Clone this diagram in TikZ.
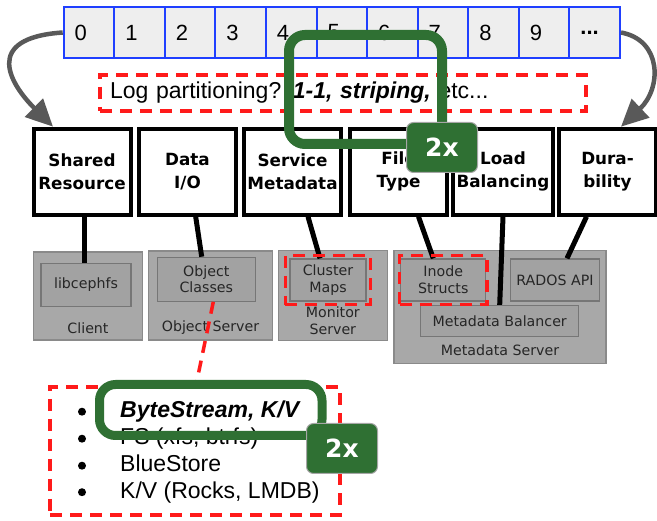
\documentclass[tikz,border=0pt]{standalone}
\usepackage{fontspec}
\setmainfont{Liberation Sans}
\newfontfamily\tahoma{DejaVu Sans}
\usetikzlibrary{arrows.meta,fit}

\definecolor{cellgray}{HTML}{EEEEEE}
\definecolor{cellblue}{HTML}{1F3FFF}
\definecolor{srvgray}{HTML}{A8A8A8}
\definecolor{srvedge}{HTML}{8A8A8A}
\definecolor{modgray}{HTML}{A2A2A2}
\definecolor{modedge}{HTML}{767676}
\definecolor{arrgray}{HTML}{595959}
\definecolor{cephgreen}{HTML}{2F7033}
\definecolor{hlred}{HTML}{FF1A1A}

\tikzset{
  cell/.style={draw=cellblue, line width=2pt, fill=cellgray, minimum width=50.57pt,
    minimum height=51pt, inner xsep=11pt, text width=28.57pt, align=left,
    font=\fontsize{22}{24}\selectfont},
  topbox/.style={draw, line width=4pt, fill=white, minimum width=97pt, minimum height=86pt,
    align=center, font=\tahoma\bfseries\fontsize{16.8}{23}\selectfont},
  server/.style={draw=srvedge, line width=1.5pt, fill=srvgray},
  module/.style={draw=modedge, line width=1.2pt, fill=modgray, align=center, text=black!85,
    font=\tahoma\fontsize{14.2}{16.7}\selectfont},
  srvlabel/.style={text=black!85, align=center, inner sep=0pt,
    font=\tahoma\fontsize{14.2}{16.7}\selectfont},
  link/.style={line width=5pt},
  hilite/.style={draw=hlred, line width=3.5pt, dash pattern=on 12pt off 8pt},
  flow/.style={draw=arrgray, line width=4.5pt, -{Triangle[length=27pt,width=25pt]}},
  kvitem/.style={anchor=base west, inner sep=0pt, font=\fontsize{23}{26}\selectfont},
  kvdot/.style={circle, fill=black, inner sep=0pt, minimum size=8pt},
  zoomframe/.style={draw=cephgreen, rounded corners=16pt, outer sep=0pt},
  badge/.style={fill=cephgreen, draw=black!35, line width=1pt, rounded corners=7pt,
    minimum width=71pt, minimum height=50pt, text=white,
    font=\tahoma\bfseries\fontsize{25}{27}\selectfont}
}

\begin{document}
\begin{tikzpicture}[x=1pt,y=-1pt]
\useasboundingbox (0,0) rectangle (657,521);

% the log
\foreach \i in {0,...,9}
  \node[cell] (c\i) at ({89+50.57*\i},32.5) {\i};
\node[cell] (c10) at ({89+50.57*10},32.5) {\textbf{...}};

\node[hilite, minimum width=486pt, minimum height=36pt, inner xsep=10pt, text width=466pt,
  align=left, font=\fontsize{23}{26}\selectfont] (logq) at (343,93)
  {Log partitioning? \textbf{\textit{1-1, striping,}} etc...};

% interfaces
\node[topbox] (shared) at (82,171.7) {Shared\\Resource};
\node[topbox] (dataio) at (187.5,171.7) {Data\\I/O};
\node[topbox] (svcmeta) at (292.5,171.7) {Service\\Metadata};
\node[topbox] (ftype) at (398.5,171.7) {File\\Type};
\node[topbox] (loadbal) at (503,171.7) {Load\\Balancing};
\node[topbox] (dura) at (607.5,171.7) {Dura-\\bility};

\draw[flow] (c0.west) .. controls (-18,38) and (10,84) .. ([xshift=21.5pt]shared.north west);
\draw[flow] (c10.east) .. controls (662,40) and (662,88) .. ([xshift=13.5pt]dura.north);

% ceph daemons
\node[server, minimum width=109pt, minimum height=88pt] (client) at (88,296) {};
\node[server, minimum width=124pt, minimum height=89pt] (osrv) at (210.5,295.7) {};
\node[server, minimum width=109pt, minimum height=90pt] (mon) at (332.8,295.3) {};
\node[server, minimum width=212pt, minimum height=113pt] (mds) at (500,307) {};

\node[module, minimum width=90pt, minimum height=43pt] (libceph) at (86,284.7) {libcephfs};
\node[module, minimum width=98pt, minimum height=44pt] (ocls) at (206.3,279.3) {Object\\Classes};
\node[module, minimum width=76pt, minimum height=42pt] (cmaps) at (328,280) {Cluster\\Maps};
\node[module, minimum width=85pt, minimum height=42pt] (inode) at (443.3,280) {Inode\\Structs};
\node[module, minimum width=89pt, minimum height=42pt] (rados) at (555,280) {RADOS API};
\node[module, minimum width=158pt, minimum height=31pt] (mbal) at (499.7,321) {Metadata Balancer};

\node[srvlabel] (lclient) at (88,328) {Client};
\node[srvlabel] (losrv) at (210.5,328) {Object Server};
\node[srvlabel] (lmon) at (332.8,320.5) {Monitor\\Server};
\node[srvlabel] (lmds) at (500,350.7) {Metadata Server};

\draw[link] ([xshift=2pt]shared.south) -- ([xshift=-2pt]libceph.north);
\draw[link] ([xshift=8.2pt]dataio.south) -- ([xshift=-4.6pt]ocls.north);
\draw[link] ([xshift=15.5pt]svcmeta.south) -- ([xshift=-8pt]cmaps.north);
\draw[link] ([xshift=20pt]ftype.south) -- ([xshift=-10pt]inode.north);
\draw[link] (loadbal.south) -- (mbal.north);
\draw[link] ([xshift=-21pt]dura.south) -- ([xshift=12pt]rados.north);

\node[hilite, fit=(cmaps), inner xsep=4pt, inner ysep=3pt] (hlmaps) {};
\node[hilite, fit=(inode), inner xsep=0.5pt, inner ysep=3pt] (hlinode) {};

% object store backends
\node[hilite, minimum width=290pt, minimum height=128pt] (kvlist) at (195,451) {};
\draw[hilite] ([xshift=7pt]ocls.south) -- ([xshift=1pt]kvlist.north);

\node[kvitem, font=\fontsize{23}{26}\selectfont\bfseries\itshape] (kv1) at (120,418) {ByteStream, K/V};
\node[kvitem] (kv2) at (120,445) {FS (xfs, btrfs)};
\node[kvitem] (kv3) at (120,472) {BlueStore};
\node[kvitem] (kv4) at (120,498.5) {K/V (Rocks, LMDB)};
\foreach \y [count=\n] in {418,445,472,498.5}
  \node[kvdot] (dot\n) at (82,\y-6.3) {};

% 2x
\node[zoomframe, line width=10pt, minimum width=153pt, minimum height=109pt] (grpA) at (365.5,89.5) {};
\node[badge] (bdgA) at ([yshift=-3.5pt]grpA.south east) {2x};
\node[zoomframe, line width=9pt, minimum width=222.5pt, minimum height=51pt] (grpB) at (210.75,410) {};
\node[badge] (bdgB) at ([xshift=20pt,yshift=-13pt]grpB.south east) {2x};
\end{tikzpicture}
\end{document}
